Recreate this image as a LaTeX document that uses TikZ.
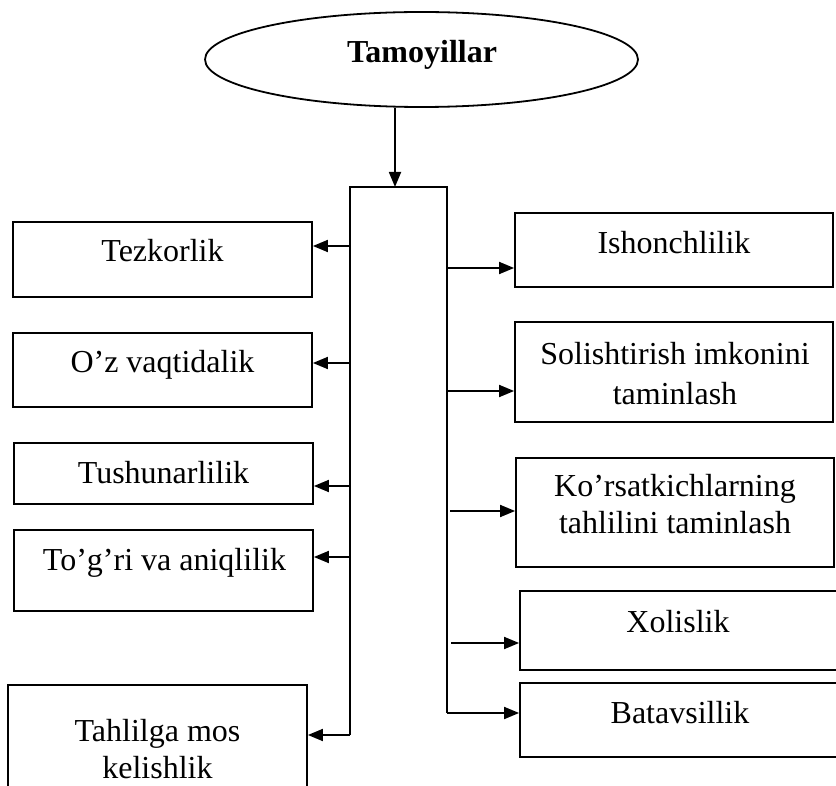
\documentclass[tikz,border=0pt]{standalone}
\usepackage{fontspec}
\setmainfont{Liberation Serif}
\usetikzlibrary{arrows.meta,shapes.geometric}
\begin{document}
\begin{tikzpicture}[x=1pt,y=-1pt,
  line width=1.8pt,
  frame/.style={draw, rectangle, inner sep=0pt},
  oval/.style={draw, ellipse, inner sep=0pt},
  lbl/.style={font=\fontsize{32}{37}\selectfont, inner sep=0pt, align=center},
  arr/.style={-{Triangle[length=15pt,width=12pt]}}]
\useasboundingbox (0,0) rectangle (836,786);
\clip (0,0) rectangle (836,786);

% title oval
\node[oval, minimum width=433, minimum height=95] (root) at (421.5,59.5) {};
\node[lbl, anchor=base, font=\fontsize{32}{37}\selectfont\bfseries] (rootT) at (422,63) {Tamoyillar};

% open trunk under the title
\coordinate (tl) at (350,187);
\coordinate (tr) at (447,187);
\coordinate (bl) at (350,735);
\coordinate (br) at (447,713);
\coordinate (top) at (395,187);
\draw (bl) -- (tl) -- (tr) -- (br);
\draw[arr] (root.south -| top) -- (top);

% left column
\node[frame, minimum width=299, minimum height=75] (tez) at (162.5,259.5) {};
\node[lbl, anchor=base] (tezT) at (162.5,262) {Tezkorlik};
\node[frame, minimum width=299, minimum height=74] (ozv) at (162.5,370) {};
\node[lbl, anchor=base] (ozvT) at (162.5,373) {O’z vaqtidalik};
\node[frame, minimum width=299, minimum height=61] (tush) at (163.5,473.5) {};
\node[lbl, anchor=base] (tushT) at (163.5,483) {Tushunarlilik};
\node[frame, minimum width=299, minimum height=81] (tog) at (163.5,570.5) {};
\node[lbl, anchor=base] (togT) at (164.5,570) {To’g’ri va aniqlilik};
\node[frame, minimum width=299, minimum height=130] (tah) at (157.5,750) {};
\node[lbl, anchor=north] (tahT) at (157.5,718.5) {Tahlilga mos\\kelishlik};

% right column
\node[frame, minimum width=318, minimum height=74] (ish) at (674,250) {};
\node[lbl, anchor=base] (ishT) at (674,254) {Ishonchlilik};
\node[frame, minimum width=318, minimum height=100] (sol) at (674,372) {};
\node[lbl, anchor=north, font=\fontsize{32}{40}\selectfont] (solT) at (675,341.5) {Solishtirish imkonini\\taminlash};
\node[frame, minimum width=318, minimum height=109] (kor) at (675,512.5) {};
\node[lbl, anchor=north] (korT) at (675,473.5) {Ko’rsatkichlarning\\tahlilini taminlash};
\node[frame, minimum width=340, minimum height=79] (xol) at (690,630.5) {};
\node[lbl, anchor=base] (xolT) at (678,632) {Xolislik};
\node[frame, minimum width=340, minimum height=74] (bat) at (690,720) {};
\node[lbl, anchor=base] (batT) at (680,723) {Batavsillik};

% branch points on the trunk
\coordinate (l1) at (350,246);
\coordinate (l2) at (350,363);
\coordinate (l3) at (350,486);
\coordinate (l4) at (350,557);
\coordinate (r1) at (447,268);
\coordinate (r2) at (447,391);
\coordinate (r3) at (450,511);
\coordinate (r4) at (451,643);

\draw[arr] (l1) -- (l1 -| tez.east);
\draw[arr] (l2) -- (l2 -| ozv.east);
\draw[arr] (l3) -- (l3 -| tush.east);
\draw[arr] (l4) -- (l4 -| tog.east);
\draw[arr] (bl) -- (bl -| tah.east);
\draw[arr] (r1) -- (r1 -| ish.west);
\draw[arr] (r2) -- (r2 -| sol.west);
\draw[arr] (r3) -- (r3 -| kor.west);
\draw[arr] (r4) -- (r4 -| xol.west);
\draw[arr] (br) -- (br -| bat.west);
\end{tikzpicture}
\end{document}
